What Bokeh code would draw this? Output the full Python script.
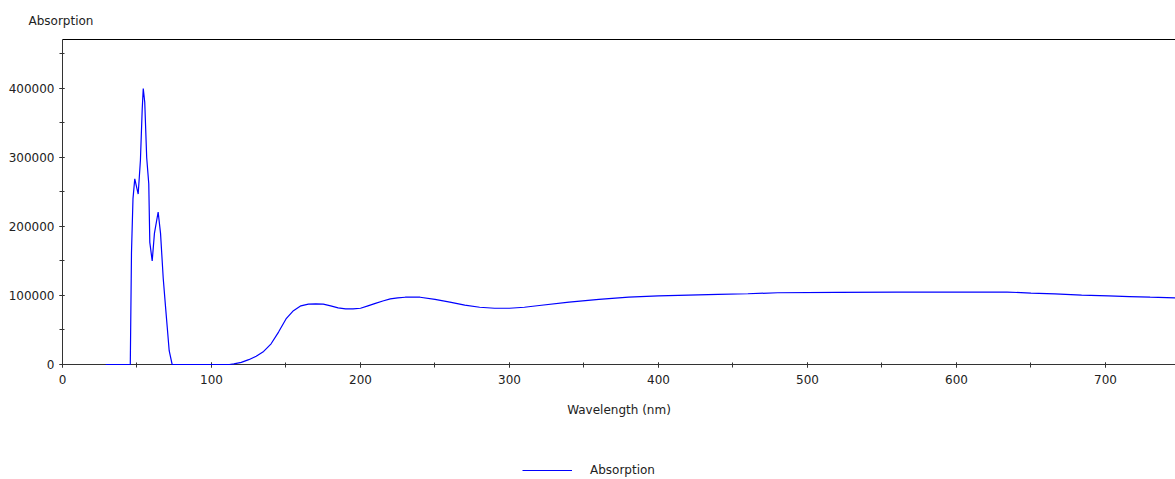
from bokeh.plotting import figure
from bokeh.layouts import column
from bokeh.models import (Range1d, SingleIntervalTicker, BasicTickFormatter, LinearAxis,
                          Title, ColumnDataSource, Legend, LegendItem, FixedTicker)
from bokeh.embed import file_html
from bokeh.resources import INLINE

# ---- data ----
wavelength = [29, 45.5, 46.3, 47.3, 48.5, 50.8, 52.3, 53.5, 54.2, 55.2, 56.5, 57.9, 58.6,
              60.2, 61.7, 64.2, 65.8, 67.6, 69.1, 70.3, 71.6, 73.6,
              112, 115, 120, 125, 130, 135, 140, 145, 150, 155, 160, 165, 170, 175, 180,
              185, 190, 195, 200, 205, 210, 215, 220, 225, 230, 240, 250, 260, 270, 280,
              290, 300, 310, 320, 340, 360, 380, 400, 420, 440, 460, 480, 520, 560,
              600, 634, 650, 666, 684, 702, 716, 730, 747, 760]
absorption = [0, 0, 162000, 240000, 269000, 247000, 296000, 370000, 400000, 380000, 300000,
              262000, 177000, 150000, 190000, 221000, 190000, 125000, 85000, 54000, 20000, 0,
              0, 1000, 3000, 7000, 12000, 19000, 30000, 47000, 66000, 78000, 85000, 87500,
              88000, 87500, 85000, 82000, 80500, 80500, 81500, 85000, 88500, 92000, 95000,
              96500, 97500, 97500, 94500, 90500, 86000, 83000, 81500, 81500, 83000, 85500,
              90500, 94500, 97500, 99500, 100500, 101500, 102500, 104000, 104500, 105000,
              105000, 105000, 103500, 102400, 100500, 99500, 98500, 97500, 96600, 96000]

title_text = "Absorption"
x_label = "Wavelength (nm)"
series_name = "Absorption"

FONT = "DejaVu Sans"
LINE_COLOR = "#0000ff"

p = figure(width=1175, height=440, output_backend="svg", toolbar_location=None,
           x_range=Range1d(0, 747), y_range=Range1d(0, 471000),
           min_border_left=62, min_border_right=0, min_border_top=39, min_border_bottom=76)
p.outline_line_color = None
p.xgrid.grid_line_color = None
p.ygrid.grid_line_color = None
p.background_fill_color = "white"
p.border_fill_color = "white"

src = ColumnDataSource(dict(x=wavelength, y=absorption))
p.line("x", "y", source=src, line_color=LINE_COLOR, line_width=1.2, level="overlay")

for ax in (p.xaxis[0], p.yaxis[0]):
    ax.axis_line_color = "#333333"
    ax.major_tick_line_color = "#333333"
    ax.minor_tick_line_color = "#333333"
    ax.major_tick_in = 2
    ax.major_tick_out = 3
    ax.minor_tick_in = 2
    ax.minor_tick_out = 3
    ax.major_label_text_font = FONT
    ax.major_label_text_font_size = "12px"
    ax.major_label_text_color = "#222222"
    ax.axis_label_text_font = FONT
    ax.axis_label_text_font_size = "12px"
    ax.axis_label_text_font_style = "normal"
    ax.axis_label_text_color = "#222222"
    ax.formatter = BasicTickFormatter(use_scientific=False)

p.xaxis[0].ticker = SingleIntervalTicker(interval=100, num_minor_ticks=2)
p.yaxis[0].ticker = SingleIntervalTicker(interval=100000, num_minor_ticks=2)
p.xaxis[0].axis_label = x_label
p.xaxis[0].major_label_standoff = 7
p.xaxis[0].axis_label_standoff = 16
p.yaxis[0].major_label_standoff = 5

top = LinearAxis(axis_line_color="black", ticker=FixedTicker(ticks=[]),
                 major_tick_in=0, major_tick_out=0, minor_tick_in=0, minor_tick_out=0,
                 major_label_standoff=0, major_label_text_font_size="0px",
                 major_label_text_color=None)
p.add_layout(top, "above")

p.add_layout(Title(text=title_text, align="left", offset=-34, text_font=FONT,
                   text_font_size="12px", text_font_style="normal", text_color="#222222",
                   standoff=23), "above")

# ---- legend strip below the chart ----
lfig = figure(width=1175, height=39, output_backend="svg", toolbar_location=None,
              x_range=Range1d(1000, 2000), y_range=Range1d(0, 1),
              x_axis_type=None, y_axis_type=None,
              min_border_left=62, min_border_right=0, min_border_top=0, min_border_bottom=0)
lfig.outline_line_color = None
lfig.xgrid.grid_line_color = None
lfig.ygrid.grid_line_color = None
lr = lfig.line("x", "y", source=src, line_color=LINE_COLOR, line_width=1.2)
lg = Legend(items=[LegendItem(label=series_name, renderers=[lr])], location=(460, -1))
lg.border_line_color = None
lg.background_fill_alpha = 0
lg.padding = 0
lg.margin = 0
lg.glyph_width = 50
lg.glyph_height = 20
lg.label_height = 20
lg.label_standoff = 18
lg.label_text_font = FONT
lg.label_text_font_size = "12px"
lg.label_text_color = "#222222"
lfig.add_layout(lg, "center")

open("out.html", "w").write(file_html(column(p, lfig, spacing=0), INLINE))
